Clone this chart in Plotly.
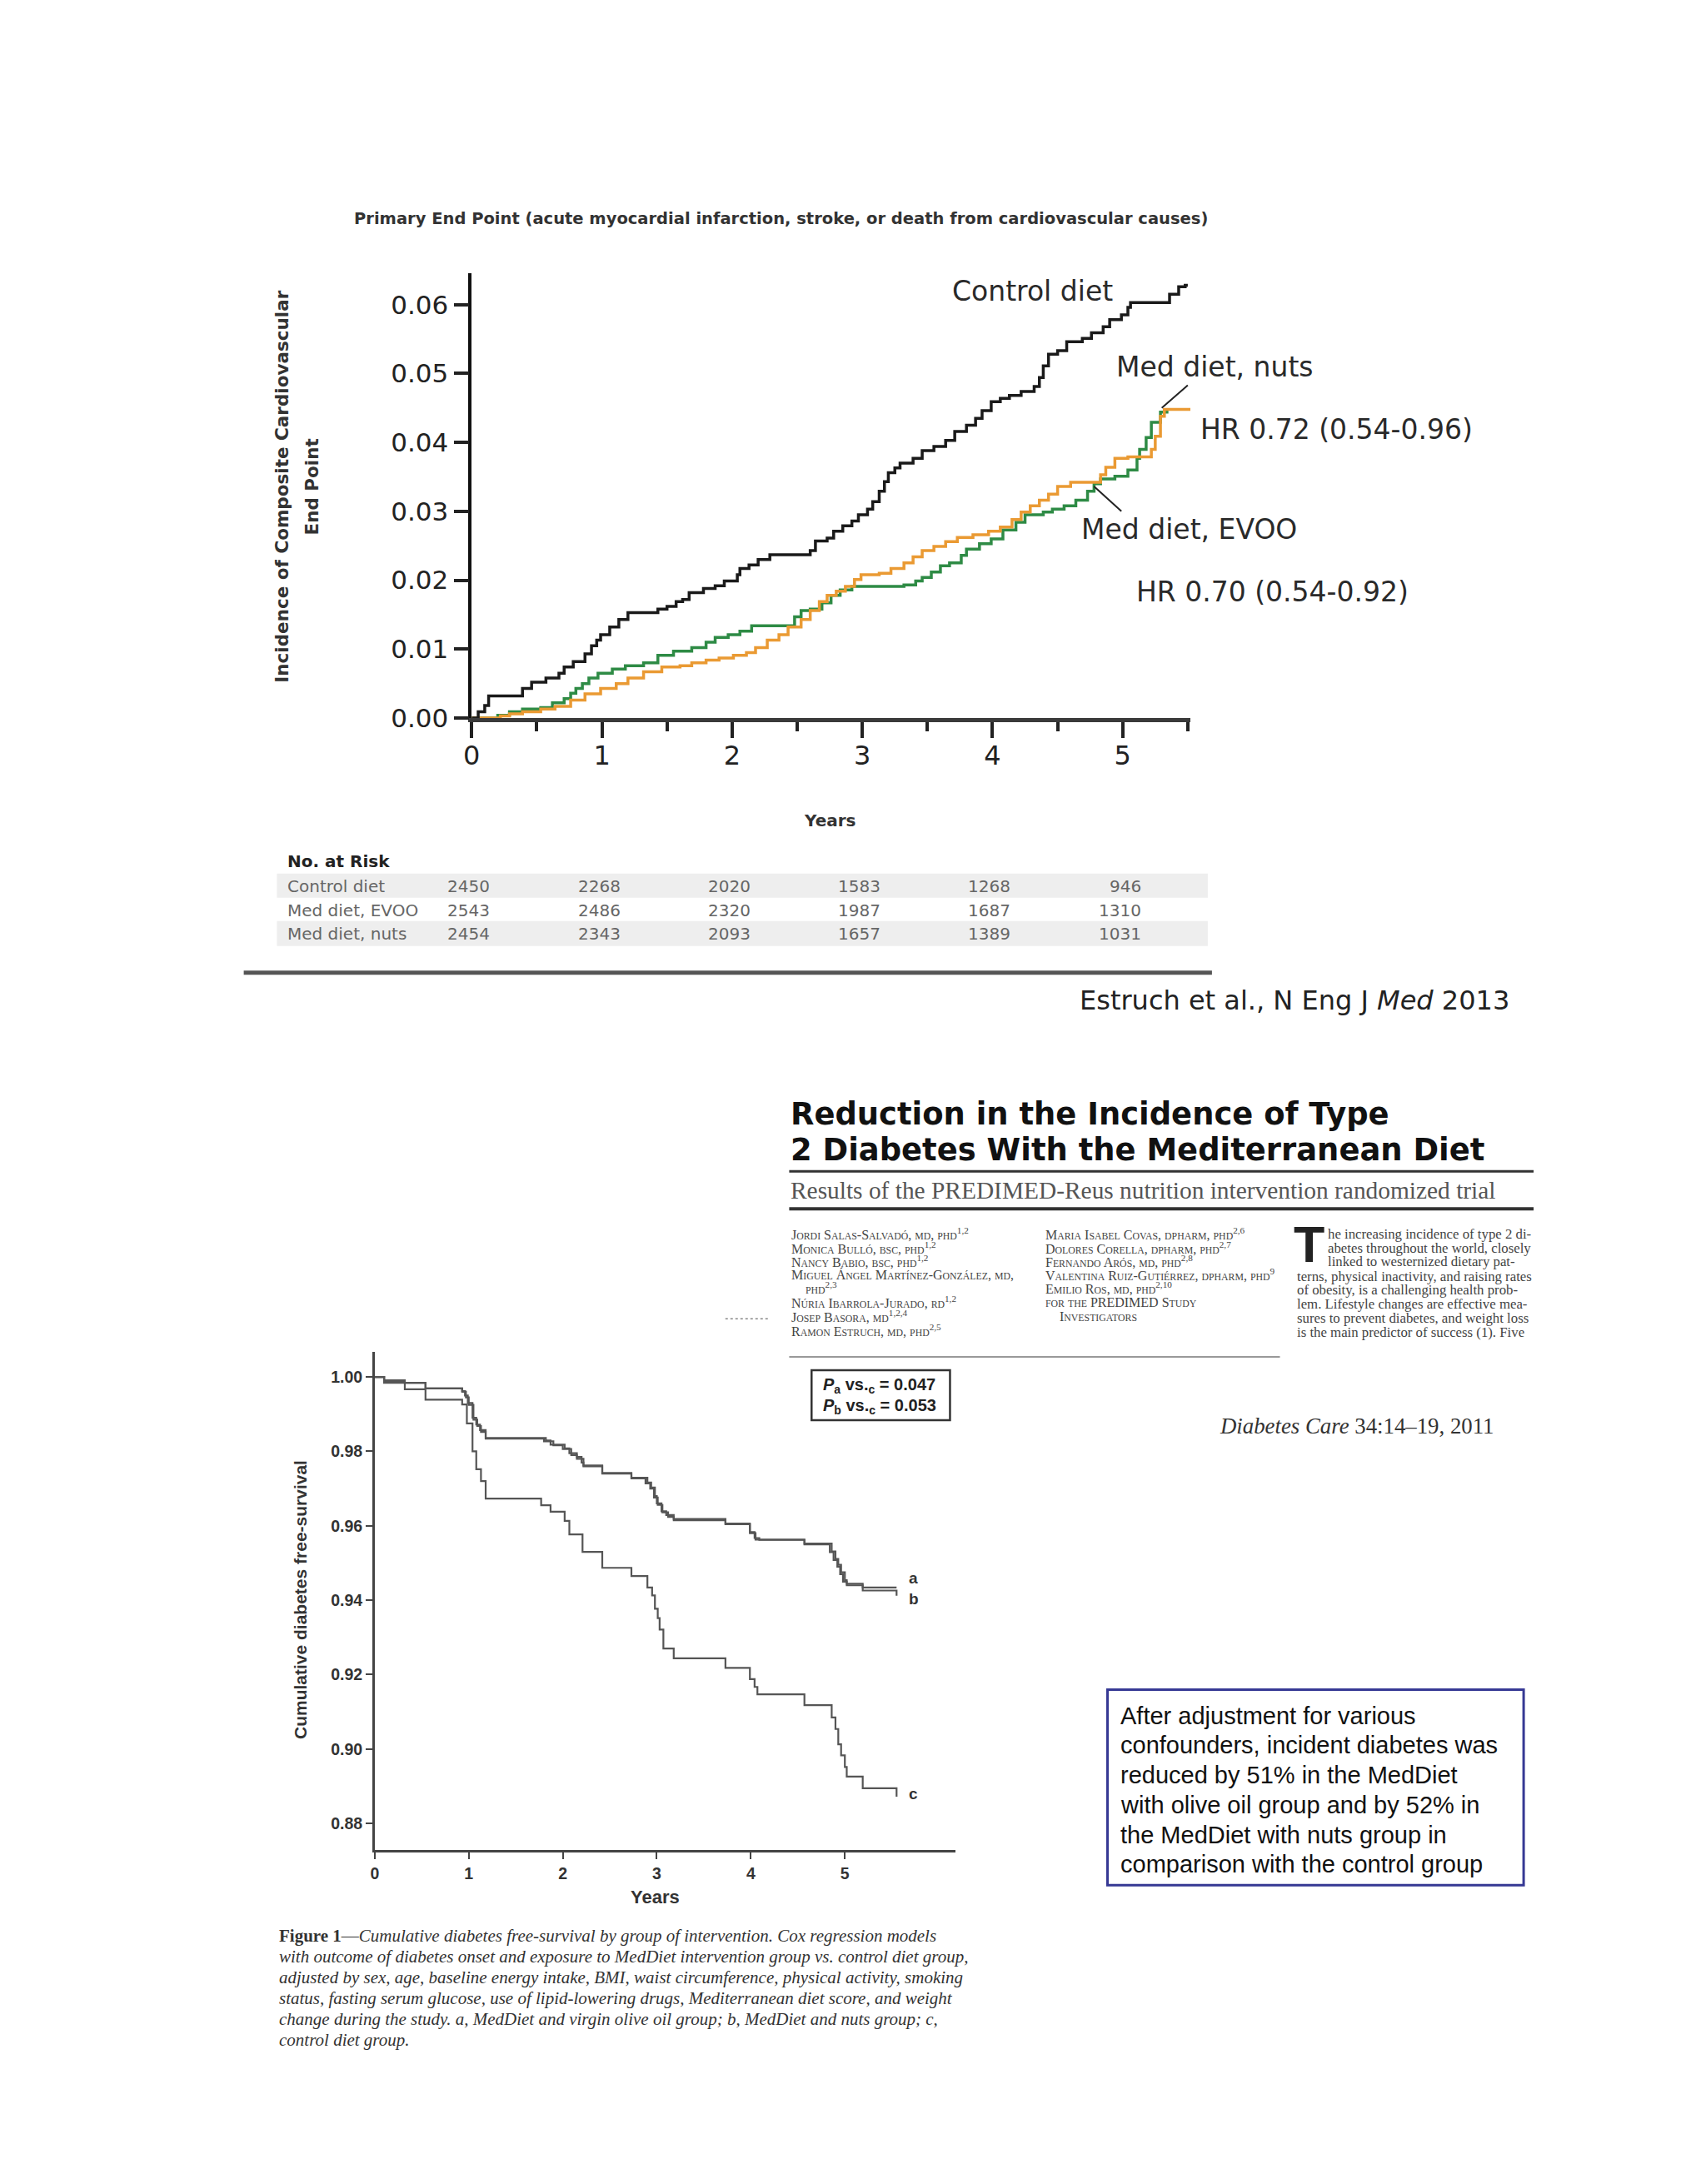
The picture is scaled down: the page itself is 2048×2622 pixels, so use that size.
import itertools
import plotly.graph_objects as go

W, H = 2048, 2622

# ---------------- Top chart: cumulative incidence (PREDIMED primary end point) ----------------
control_t = [0, 0.05, 0.10, 0.13, 0.39, 0.46, 0.57, 0.67, 0.71, 0.78, 0.87, 0.92, 0.96, 0.99, 1.06, 1.13,
             1.20, 1.43, 1.50, 1.57, 1.62, 1.67, 1.78, 1.87, 1.94, 2.04, 2.06, 2.13, 2.20, 2.29, 2.60, 2.64,
             2.73, 2.78, 2.85, 2.92, 2.97, 3.04, 3.08, 3.13, 3.17, 3.20, 3.25, 3.29, 3.39, 3.46, 3.55, 3.64,
             3.71, 3.80, 3.87, 3.92, 3.99, 4.06, 4.13, 4.22, 4.32, 4.36, 4.39, 4.43, 4.50, 4.57, 4.69, 4.76,
             4.85, 4.90, 4.99, 5.04, 5.06, 5.36, 5.43, 5.48, 5.50]
control_v = [0, 0.0009, 0.0018, 0.0032, 0.0043, 0.0052, 0.0058, 0.0065, 0.0074, 0.0082, 0.0093, 0.0105,
             0.0113, 0.0121, 0.0132, 0.0143, 0.0153, 0.0158, 0.0162, 0.0169, 0.0172, 0.0182, 0.0188, 0.0192,
             0.0199, 0.0208, 0.0217, 0.0222, 0.0230, 0.0237, 0.0243, 0.0257, 0.0261, 0.0271, 0.0279, 0.0286,
             0.0295, 0.0303, 0.0314, 0.0329, 0.0343, 0.0356, 0.0363, 0.0370, 0.0377, 0.0388, 0.0394, 0.0403,
             0.0416, 0.0425, 0.0435, 0.0446, 0.0459, 0.0464, 0.0468, 0.0474, 0.0481, 0.0494, 0.0511, 0.0528,
             0.0533, 0.0546, 0.0551, 0.0559, 0.0568, 0.0578, 0.0585, 0.0596, 0.0603, 0.0615, 0.0626, 0.0628,
             0.0628]

evoo_t = [0, 0.20, 0.29, 0.39, 0.53, 0.62, 0.71, 0.76, 0.80, 0.85, 0.90, 0.97, 1.08, 1.18, 1.32, 1.43, 1.55,
          1.69, 1.80, 1.87, 1.97, 2.06, 2.15, 2.48, 2.53, 2.60, 2.69, 2.76, 2.83, 2.92, 3.32, 3.41, 3.46, 3.53,
          3.60, 3.67, 3.76, 3.80, 3.90, 3.99, 4.08, 4.18, 4.25, 4.39, 4.46, 4.55, 4.64, 4.73, 4.78, 4.83, 4.94,
          5.04, 5.11, 5.13, 5.18, 5.22, 5.29, 5.34]
evoo_v = [0, 0.0004, 0.0009, 0.0013, 0.0015, 0.0022, 0.0028, 0.0036, 0.0043, 0.0050, 0.0058, 0.0065, 0.0071,
          0.0076, 0.0080, 0.0091, 0.0097, 0.0102, 0.0110, 0.0117, 0.0121, 0.0126, 0.0134, 0.0147, 0.0156,
          0.0158, 0.0167, 0.0178, 0.0186, 0.0191, 0.0193, 0.0199, 0.0204, 0.0212, 0.0221, 0.0225, 0.0236,
          0.0245, 0.0253, 0.0260, 0.0273, 0.0284, 0.0295, 0.0299, 0.0303, 0.0308, 0.0316, 0.0329, 0.0340,
          0.0347, 0.0351, 0.0360, 0.0377, 0.0390, 0.0407, 0.0429, 0.0444, 0.0446]

nuts_t = [0, 0.22, 0.29, 0.39, 0.53, 0.64, 0.76, 0.87, 0.99, 1.11, 1.20, 1.32, 1.46, 1.60, 1.69, 1.80, 1.90,
          2.01, 2.11, 2.18, 2.27, 2.36, 2.43, 2.53, 2.60, 2.67, 2.73, 2.80, 2.87, 2.94, 2.99, 3.13, 3.22, 3.32,
          3.39, 3.46, 3.55, 3.64, 3.73, 3.85, 3.97, 4.06, 4.15, 4.22, 4.29, 4.36, 4.43, 4.50, 4.60, 4.83, 4.87,
          4.94, 5.04, 5.22, 5.25, 5.29, 5.32, 5.52]
nuts_v = [0, 0.0003, 0.0006, 0.0009, 0.0013, 0.0017, 0.0026, 0.0035, 0.0043, 0.0050, 0.0058, 0.0067, 0.0074,
          0.0076, 0.0080, 0.0084, 0.0087, 0.0091, 0.0095, 0.0102, 0.0113, 0.0121, 0.0132, 0.0143, 0.0156,
          0.0169, 0.0178, 0.0184, 0.0191, 0.0201, 0.0208, 0.0210, 0.0217, 0.0225, 0.0234, 0.0243, 0.0249,
          0.0256, 0.0262, 0.0266, 0.0271, 0.0277, 0.0288, 0.0299, 0.0308, 0.0316, 0.0325, 0.0336, 0.0342,
          0.0353, 0.0364, 0.0377, 0.0379, 0.0390, 0.0409, 0.0438, 0.0448, 0.0448]

top_yticks = [0.00, 0.01, 0.02, 0.03, 0.04, 0.05, 0.06]
top_xticks = [0, 1, 2, 3, 4, 5]

risk_times = [0, 1, 2, 3, 4, 5]
risk_groups = ["Control diet", "Med diet, EVOO", "Med diet, nuts"]
risk_control = [2450, 2268, 2020, 1583, 1268, 946]
risk_evoo = [2543, 2486, 2320, 1987, 1687, 1310]
risk_nuts = [2454, 2343, 2093, 1657, 1389, 1031]

top_title = "Primary End Point (acute myocardial infarction, stroke, or death from cardiovascular causes)"
top_ytitle = ["Incidence of Composite Cardiovascular", "End Point"]
hr_nuts = "HR 0.72 (0.54-0.96)"
hr_evoo = "HR 0.70 (0.54-0.92)"
citation_top = "Estruch et al., N Eng J <i>Med</i> 2013"

# ---------------- Bottom chart: diabetes free-survival (PREDIMED-Reus) ----------------
a_t = [0, 0.10, 0.32, 0.54, 0.93, 0.96, 0.99, 1.04, 1.08, 1.12, 1.18, 1.82, 1.87, 2.02, 2.07, 2.15, 2.20, 2.22,
       2.42, 2.73, 2.90, 2.94, 2.98, 3.00, 3.05, 3.10, 3.18, 3.73, 3.99, 4.04, 4.09, 4.57, 4.86, 4.90, 4.93,
       4.96, 5.00, 5.02, 5.19, 5.55]
a_v = [1.0, 0.9991, 0.9984, 0.9969, 0.9962, 0.9950, 0.9930, 0.9890, 0.9872, 0.9857, 0.9836, 0.9829, 0.9818,
       0.9808, 0.9795, 0.9785, 0.9770, 0.9762, 0.9742, 0.9729, 0.9716, 0.9703, 0.9680, 0.9660, 0.9639, 0.9629,
       0.9618, 0.9606, 0.9583, 0.9567, 0.9562, 0.9552, 0.9531, 0.9511, 0.9495, 0.9475, 0.9454, 0.9444, 0.9434,
       0.9434]
b_t = [0, 0.10, 0.32, 0.54, 0.93, 0.97, 1.00, 1.05, 1.09, 1.13, 1.18, 1.80, 1.90, 2.00, 2.09, 2.15, 2.22, 2.42,
       2.73, 2.88, 2.93, 2.97, 3.01, 3.06, 3.12, 3.18, 3.73, 3.99, 4.05, 4.57, 4.84, 4.88, 4.92, 4.95, 4.98,
       5.02, 5.19, 5.55]
b_v = [1.0, 0.9988, 0.9984, 0.9969, 0.9960, 0.9945, 0.9925, 0.9885, 0.9868, 0.9852, 0.9834, 0.9827, 0.9816,
       0.9806, 0.9790, 0.9780, 0.9760, 0.9740, 0.9727, 0.9714, 0.9700, 0.9676, 0.9656, 0.9636, 0.9624, 0.9615,
       0.9604, 0.9580, 0.9563, 0.9550, 0.9529, 0.9508, 0.9490, 0.9470, 0.9450, 0.9440, 0.9426, 0.9412]
c_t = [0, 0.10, 0.32, 0.54, 0.93, 0.98, 1.04, 1.08, 1.13, 1.18, 1.77, 1.87, 2.02, 2.07, 2.21, 2.42, 2.73, 2.90,
       2.95, 2.98, 3.01, 3.03, 3.07, 3.18, 3.73, 3.99, 4.04, 4.07, 4.57, 4.86, 4.90, 4.93, 4.96, 5.00, 5.02,
       5.19, 5.55]
c_v = [1.0, 0.9984, 0.9967, 0.9939, 0.9926, 0.9875, 0.9800, 0.9752, 0.9720, 0.9673, 0.9655, 0.9638, 0.9613,
       0.9577, 0.9530, 0.9487, 0.9465, 0.9434, 0.9413, 0.9377, 0.9352, 0.9321, 0.9270, 0.9244, 0.9218, 0.9188,
       0.9167, 0.9147, 0.9118, 0.9085, 0.9054, 0.9013, 0.8983, 0.8952, 0.8926, 0.8895, 0.8872]

bot_yticks = [0.88, 0.90, 0.92, 0.94, 0.96, 0.98, 1.00]
bot_xticks = [0, 1, 2, 3, 4, 5]
curve_labels = ["a", "b", "c"]

header_title = ["Reduction in the Incidence of Type", "2 Diabetes With the Mediterranean Diet"]
header_sub = "Results of the PREDIMED-Reus nutrition intervention randomized trial"
authors_col1 = [("Jordi Salas-Salvadó, md, phd", "1,2"), ("Monica Bulló, bsc, phd", "1,2"),
                ("Nancy Babio, bsc, phd", "1,2"), ("Miguel Ángel Martínez-González, md,", ""),
                ("phd", "2,3"), ("Núria Ibarrola-Jurado, rd", "1,2"), ("Josep Basora, md", "1,2,4"),
                ("Ramon Estruch, md, phd", "2,5")]
authors_col2 = [("Maria Isabel Covas, dpharm, phd", "2,6"), ("Dolores Corella, dpharm, phd", "2,7"),
                ("Fernando Arós, md, phd", "2,8"), ("Valentina Ruiz-Gutiérrez, dpharm, phd", "9"),
                ("Emilio Ros, md, phd", "2,10"), ("for the PREDIMED Study", ""), ("Investigators", "")]
intro_lines = ["he increasing incidence of type 2 di-", "abetes throughout the world, closely",
               "linked to westernized dietary pat-", "terns, physical inactivity, and raising rates",
               "of obesity, is a challenging health prob-", "lem. Lifestyle changes are effective mea-",
               "sures to prevent diabetes, and weight loss", "is the main predictor of success (1). Five"]
pvalues = [("a", "0.047"), ("b", "0.053")]
citation_bottom = "<i>Diabetes Care</i> 34:14–19, 2011"
caption_lines = [
    "<b>Figure 1</b>—<i>Cumulative diabetes free-survival by group of intervention. Cox regression models</i>",
    "<i>with outcome of diabetes onset and exposure to MedDiet intervention group vs. control diet group,</i>",
    "<i>adjusted by sex, age, baseline energy intake, BMI, waist circumference, physical activity, smoking</i>",
    "<i>status, fasting serum glucose, use of lipid-lowering drugs, Mediterranean diet score, and weight</i>",
    "<i>change during the study. a, MedDiet and virgin olive oil group; b, MedDiet and nuts group; c,</i>",
    "<i>control diet group.</i>"]
box_lines = ["After adjustment for various", "confounders, incident diabetes was",
             "reduced by 51% in the MedDiet", "with olive oil group and by 52% in",
             "the MedDiet with nuts group in", "comparison with the control group"]

# ---------------- helpers (page pixel -> paper fraction) ----------------
def X(px):
    return (px - 4) / W


def Y(py):
    return 1 - (py / 0.9943) / H


def smallcaps(s, small):
    out = ""
    for low, grp in itertools.groupby(s, key=lambda ch: ch.islower()):
        chunk = "".join(grp)
        out += f"<span style='font-size:{small}px'>{chunk.upper()}</span>" if low else chunk
    return out


SANS = "DejaVu Sans, Verdana, sans-serif"
ARIAL = "Liberation Sans, Arial, Helvetica, sans-serif"
SERIF = "Liberation Serif, Times New Roman, serif"
NARROW = "Liberation Sans Narrow, Arial Narrow, Liberation Sans, sans-serif"

fig = go.Figure()

fig.add_trace(go.Scatter(x=evoo_t, y=evoo_v, mode="lines", line=dict(color="#2e8b45", width=3.5, shape="hv"),
                         xaxis="x", yaxis="y", hoverinfo="skip"))
fig.add_trace(go.Scatter(x=nuts_t, y=nuts_v, mode="lines", line=dict(color="#ea9a33", width=3.5, shape="hv"),
                         xaxis="x", yaxis="y", hoverinfo="skip"))
fig.add_trace(go.Scatter(x=control_t, y=control_v, mode="lines", line=dict(color="#1a1a1a", width=3.5, shape="hv"),
                         xaxis="x", yaxis="y", hoverinfo="skip"))
for tt, vv in [(a_t, a_v), (b_t, b_v), (c_t, c_v)]:
    fig.add_trace(go.Scatter(x=tt, y=vv, mode="lines", line=dict(color="#555555", width=2.2, shape="hv"),
                             xaxis="x2", yaxis="y2", hoverinfo="skip"))

ann = []
shapes = []


def text_px(text, x, y, font, xanchor="center", angle=0):
    ann.append(dict(text=text, x=X(x), y=Y(y), xref="paper", yref="paper", xanchor=xanchor,
                    yanchor="middle", textangle=angle, showarrow=False, font=font))


def hline(x0, x1, y, color, width, dash="solid"):
    shapes.append(dict(type="line", xref="paper", yref="paper", x0=X(x0), x1=X(x1), y0=Y(y), y1=Y(y),
                       line=dict(color=color, width=width, dash=dash)))


def rect(x0, x1, y0, y1, line=None, fill="rgba(0,0,0,0)", layer="above"):
    shapes.append(dict(type="rect", xref="paper", yref="paper", x0=X(x0), x1=X(x1), y0=Y(y1), y1=Y(y0),
                       line=line or dict(width=0), fillcolor=fill, layer=layer))


# ---- top chart texts ----
text_px(f"<b>{top_title}</b>", 936, 263, dict(family=SANS, size=19.5, color="#333"))
text_px(f"<b>{top_ytitle[0]}</b>", 334, 585, dict(family=SANS, size=21.5, color="#333"), angle=-90)
text_px(f"<b>{top_ytitle[1]}</b>", 370, 585, dict(family=SANS, size=21.5, color="#333"), angle=-90)
text_px("<b>Years</b>", 995, 986, dict(family=SANS, size=20, color="#333"))
lab_font = dict(family=SANS, size=33, color="#2a2a2a")
ann.append(dict(text="Control diet", x=4.31, y=0.0619, xref="x", yref="y", xanchor="center",
                yanchor="middle", showarrow=False, font=lab_font))
ann.append(dict(text="Med diet, nuts", x=4.94, y=0.0509, xref="x", yref="y", xanchor="left",
                yanchor="middle", showarrow=False, font=lab_font))
ann.append(dict(text="Med diet, EVOO", x=4.67, y=0.0274, xref="x", yref="y", xanchor="left",
                yanchor="middle", showarrow=False, font=lab_font))
ann.append(dict(text=hr_evoo, x=5.09, y=0.0183, xref="x", yref="y", xanchor="left",
                yanchor="middle", showarrow=False, font=lab_font))
text_px(hr_nuts, 1440, 516, lab_font, xanchor="left")
shapes.append(dict(type="line", xref="x", yref="y", x0=5.50, y0=0.0483, x1=5.30, y1=0.0450,
                   line=dict(color="#222", width=2)))
shapes.append(dict(type="line", xref="x", yref="y", x0=4.78, y0=0.0336, x1=4.99, y1=0.0300,
                   line=dict(color="#222", width=2)))

# ---- number at risk table ----
text_px("<b>No. at Risk</b>", 339, 1035, dict(family=SANS, size=20, color="#222"), xanchor="left")
row_y = [1065, 1094, 1122]
rect(328, 1451, 1050, 1079, fill="#eeeeee", layer="below")
rect(328, 1451, 1107, 1137, fill="#eeeeee", layer="below")
for gname, counts, ry in zip(risk_groups, [risk_control, risk_evoo, risk_nuts], row_y):
    text_px(gname, 339, ry, dict(family=SANS, size=20, color="#666"), xanchor="left")
    for t, n in zip(risk_times, counts):
        ann.append(dict(text=str(n), x=t, y=Y(ry), xref="x", yref="paper", xanchor="right", yanchor="middle",
                        xshift=24, showarrow=False, font=dict(family=SANS, size=20, color="#666")))
hline(288, 1456, 1169, "#555", 5)
text_px(citation_top, 1556, 1202, dict(family=SANS, size=32, color="#222"))

# ---- article header ----
text_px(f"<b>{header_title[0]}</b>", 946, 1339, dict(family=SANS, size=36.9, color="#111"), xanchor="left")
text_px(f"<b>{header_title[1]}</b>", 946, 1382, dict(family=SANS, size=36.9, color="#111"), xanchor="left")
hline(946, 1844, 1408, "#333", 3)
hline(946, 1844, 1453, "#333", 4)
text_px(header_sub, 946, 1431, dict(family=SERIF, size=29.4, color="#555"), xanchor="left")

auth_y = [1483, 1500, 1516, 1532, 1548, 1565, 1582, 1599]
for i, (txt, sup) in enumerate(authors_col1):
    s = smallcaps(txt, 11.8) + (f"<sup>{sup}</sup>" if sup else "")
    text_px(s, 964 if i == 4 else 947, auth_y[i], dict(family=SERIF, size=16, color="#444"), xanchor="left")
for i, (txt, sup) in enumerate(authors_col2):
    s = smallcaps(txt, 11.8) + (f"<sup>{sup}</sup>" if sup else "")
    text_px(s, 1270 if i == 6 else 1253, auth_y[i], dict(family=SERIF, size=16, color="#444"), xanchor="left")
text_px("<b>T</b>", 1573, 1496, dict(family=NARROW, size=61, color="#222"))
for i, line in enumerate(intro_lines):
    text_px(line, 1594 if i < 3 else 1557, auth_y[i] + (2 if i >= 3 else 0),
            dict(family=SERIF, size=16.8, color="#444"), xanchor="left")
hline(946, 1538, 1631, "#777", 1.5)
hline(869, 922, 1585, "#888", 1.5, dash="dot")

rect(973, 1140, 1647, 1707, line=dict(color="#333", width=2.5))
for (g, p), yy in zip(pvalues, [1665, 1690]):
    text_px(f"<b><i>P</i><sub>{g}</sub> vs.<sub>c</sub> = {p}</b>", 985, yy,
            dict(family=ARIAL, size=20, color="#222"), xanchor="left")
text_px(citation_bottom, 1463, 1714, dict(family=SERIF, size=26.8, color="#333"), xanchor="left")

# ---- bottom chart texts ----
text_px("<b>Cumulative diabetes free-survival</b>", 356, 1923, dict(family=ARIAL, size=21, color="#333"),
        angle=-90)
text_px("<b>Years</b>", 784, 2280, dict(family=ARIAL, size=22, color="#333"))
for lab, yy in zip(curve_labels, [0.9459, 0.9403, 0.8880]):
    ann.append(dict(text=f"<b>{lab}</b>", x=5.66, y=yy, xref="x2", yref="y2", xanchor="left", yanchor="middle",
                    showarrow=False, font=dict(family=ARIAL, size=19, color="#333")))

for i, line in enumerate(caption_lines):
    text_px(line, 329, 2327 + 25 * i, dict(family=SERIF, size=21, color="#333"), xanchor="left")

rect(1330, 1832, 2031, 2266, line=dict(color="#363994", width=3))
for i, line in enumerate(box_lines):
    text_px(line, 1344, 2062 + 35.8 * i, dict(family=ARIAL, size=29, color="#111"), xanchor="left")

fig.update_layout(
    width=W, height=H, margin=dict(l=0, r=0, t=0, b=0, pad=0),
    paper_bgcolor="white", plot_bgcolor="rgba(0,0,0,0)", showlegend=False,
    annotations=ann, shapes=shapes,
    xaxis=dict(domain=[X(563), X(1430)], range=[0, 5.52], anchor="y", tickmode="array", tickvals=top_xticks,
               ticks="outside", ticklen=19, tickwidth=4, tickcolor="#222", showline=True, linecolor="#3a3a3a",
               linewidth=5, showgrid=False, zeroline=False, ticklabelstandoff=-6,
               tickfont=dict(family=SANS, size=32, color="#222"),
               minor=dict(dtick=0.5, tick0=0, ticks="outside", ticklen=11, tickwidth=3.5, tickcolor="#222",
                          showgrid=False)),
    yaxis=dict(domain=[Y(863), Y(328)], range=[0, 0.0646], anchor="x", tickmode="array", tickvals=top_yticks,
               tickformat=".2f", ticks="outside", ticklen=18, tickwidth=4, tickcolor="#222", showline=True,
               linecolor="#111", linewidth=3.5, showgrid=False, zeroline=False,
               tickfont=dict(family=SANS, size=31, color="#222")),
    xaxis2=dict(domain=[X(446), X(1147)], range=[0, 6.18], anchor="y2", tickmode="array", tickvals=bot_xticks,
                ticks="outside", ticklen=8, tickwidth=2, tickcolor="#444", showline=True, linecolor="#444",
                linewidth=2.5, showgrid=False, zeroline=False,
                tickfont=dict(family=ARIAL, size=19.5, color="#333", weight="bold")),
    yaxis2=dict(domain=[Y(2224), Y(1625)], range=[0.8728, 1.0067], anchor="x2", tickmode="array",
                tickvals=bot_yticks, tickformat=".2f", ticks="outside", ticklen=8, tickwidth=2, tickcolor="#444",
                showline=True, linecolor="#444", linewidth=2.5, showgrid=False, zeroline=False,
                tickfont=dict(family=ARIAL, size=19.5, color="#333", weight="bold")),
)

fig.write_html("out.html", config={"displayModeBar": False},
               post_script="document.body.style.margin='0';document.body.style.overflow='hidden';")
